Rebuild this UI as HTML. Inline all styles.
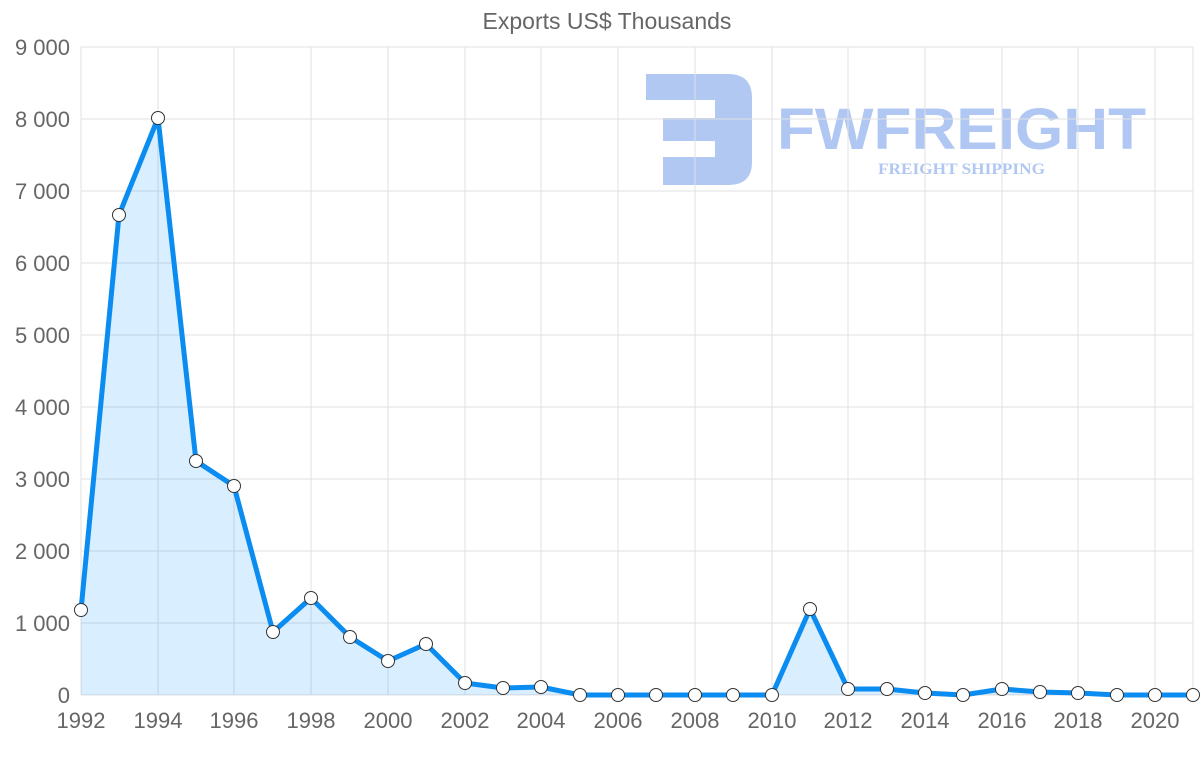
<!DOCTYPE html>
<html><head><meta charset="utf-8"><style>
html,body{margin:0;padding:0;background:#fff;}
svg{display:block;font-family:"Liberation Sans",sans-serif;}
</style></head><body>
<svg width="1200" height="763" viewBox="0 0 1200 763" xmlns="http://www.w3.org/2000/svg">
<text x="607" y="29" text-anchor="middle" font-size="23" fill="#666">Exports US$ Thousands</text>
<!-- logo -->
<g opacity="0.55" fill="#6f9be8">
<path d="M646 74 H728 Q752 74 752 98 V162 Q752 185 728 185 H663 V157 H715 V141 H663 V118 H715 V100 H646 Z"/>
<text x="777" y="149" font-size="58" font-weight="bold" textLength="369" lengthAdjust="spacingAndGlyphs">FWFREIGHT</text>
<text x="878" y="174" font-size="16" font-weight="bold" font-family="Liberation Serif,serif" textLength="167" lengthAdjust="spacingAndGlyphs">FREIGHT SHIPPING</text>
</g>
<g stroke="#e0e0e0" stroke-width="1">
<line x1="81" y1="47" x2="1193" y2="47"/><line x1="81" y1="119" x2="1193" y2="119"/><line x1="81" y1="191" x2="1193" y2="191"/><line x1="81" y1="263" x2="1193" y2="263"/><line x1="81" y1="335" x2="1193" y2="335"/><line x1="81" y1="407" x2="1193" y2="407"/><line x1="81" y1="479" x2="1193" y2="479"/><line x1="81" y1="551" x2="1193" y2="551"/><line x1="81" y1="623" x2="1193" y2="623"/><line x1="81" y1="695" x2="1193" y2="695"/>
<line x1="81" y1="47" x2="81" y2="695"/><line x1="158" y1="47" x2="158" y2="695"/><line x1="234" y1="47" x2="234" y2="695"/><line x1="311" y1="47" x2="311" y2="695"/><line x1="388" y1="47" x2="388" y2="695"/><line x1="465" y1="47" x2="465" y2="695"/><line x1="541" y1="47" x2="541" y2="695"/><line x1="618" y1="47" x2="618" y2="695"/><line x1="695" y1="47" x2="695" y2="695"/><line x1="772" y1="47" x2="772" y2="695"/><line x1="848" y1="47" x2="848" y2="695"/><line x1="925" y1="47" x2="925" y2="695"/><line x1="1002" y1="47" x2="1002" y2="695"/><line x1="1078" y1="47" x2="1078" y2="695"/><line x1="1155" y1="47" x2="1155" y2="695"/><line x1="1193" y1="47" x2="1193" y2="695"/>
</g>
<g font-size="22" fill="#666" text-anchor="end">
<text x="70" y="55">9 000</text><text x="70" y="127">8 000</text><text x="70" y="199">7 000</text><text x="70" y="271">6 000</text><text x="70" y="343">5 000</text><text x="70" y="415">4 000</text><text x="70" y="487">3 000</text><text x="70" y="559">2 000</text><text x="70" y="631">1 000</text><text x="70" y="703">0</text>
</g>
<g font-size="22" fill="#666" text-anchor="middle">
<text x="81" y="728">1992</text><text x="158" y="728">1994</text><text x="234" y="728">1996</text><text x="311" y="728">1998</text><text x="388" y="728">2000</text><text x="465" y="728">2002</text><text x="541" y="728">2004</text><text x="618" y="728">2006</text><text x="695" y="728">2008</text><text x="772" y="728">2010</text><text x="848" y="728">2012</text><text x="925" y="728">2014</text><text x="1002" y="728">2016</text><text x="1078" y="728">2018</text><text x="1155" y="728">2020</text>
</g>
<polygon fill="rgba(0,140,255,0.15)" points="81,695 81,610 119,215 158,118 196,461 234,486 273,632 311,598 350,637 388,661 426,644 465,683 503,688 541,687 580,695 618,695 656,695 695,695 733,695 772,695 810,609 848,689 887,689 925,693 963,695 1002,689 1040,692 1078,693 1117,695 1155,695 1193,695 1193,695"/>
<polyline fill="none" stroke="#0a8cf0" stroke-width="5" stroke-linejoin="round" points="81,610 119,215 158,118 196,461 234,486 273,632 311,598 350,637 388,661 426,644 465,683 503,688 541,687 580,695 618,695 656,695 695,695 733,695 772,695 810,609 848,689 887,689 925,693 963,695 1002,689 1040,692 1078,693 1117,695 1155,695 1193,695"/>
<g fill="#fff" stroke="#333" stroke-width="1">
<circle cx="81" cy="610" r="6.5"/><circle cx="119" cy="215" r="6.5"/><circle cx="158" cy="118" r="6.5"/><circle cx="196" cy="461" r="6.5"/><circle cx="234" cy="486" r="6.5"/><circle cx="273" cy="632" r="6.5"/><circle cx="311" cy="598" r="6.5"/><circle cx="350" cy="637" r="6.5"/><circle cx="388" cy="661" r="6.5"/><circle cx="426" cy="644" r="6.5"/><circle cx="465" cy="683" r="6.5"/><circle cx="503" cy="688" r="6.5"/><circle cx="541" cy="687" r="6.5"/><circle cx="580" cy="695" r="6.5"/><circle cx="618" cy="695" r="6.5"/><circle cx="656" cy="695" r="6.5"/><circle cx="695" cy="695" r="6.5"/><circle cx="733" cy="695" r="6.5"/><circle cx="772" cy="695" r="6.5"/><circle cx="810" cy="609" r="6.5"/><circle cx="848" cy="689" r="6.5"/><circle cx="887" cy="689" r="6.5"/><circle cx="925" cy="693" r="6.5"/><circle cx="963" cy="695" r="6.5"/><circle cx="1002" cy="689" r="6.5"/><circle cx="1040" cy="692" r="6.5"/><circle cx="1078" cy="693" r="6.5"/><circle cx="1117" cy="695" r="6.5"/><circle cx="1155" cy="695" r="6.5"/><circle cx="1193" cy="695" r="6.5"/>
</g>
</svg>
</body></html>
